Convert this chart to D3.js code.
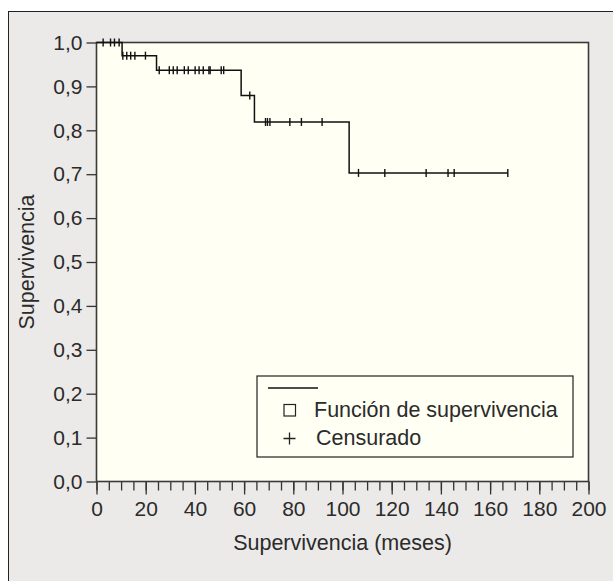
<!DOCTYPE html>
<html>
<head>
<meta charset="utf-8">
<script src="https://cdn.jsdelivr.net/npm/d3@7"></script>
<style>
  body { margin: 0; background: #fff; }
  svg text { font-family: "Liberation Sans", Arial, sans-serif; fill: #2b2b2b; }
</style>
</head>
<body>
<svg id="chart" width="613" height="581"></svg>
<script>
// Kaplan-Meier curve: step times (months) and survival level after each step
var stepTimes = [0, 10.4, 24.4, 58.8, 64.2, 102.7];
var survival = [1.0, 0.970, 0.937, 0.879, 0.819, 0.703];
var lastTime = 167.2;

// censored observations (months)
var censorTimes = [2.7, 5.7, 7.3, 9.2,
  10.7, 12.3, 13.9, 15.6, 19.9,
  25.5, 29.6, 31.2, 32.8, 35.7, 37.3, 40.1, 41.7, 43.4, 45.7, 46.2, 50.7, 51.7,
  62.3,
  68.7, 69.5, 70.5, 78.6, 83.3, 91.7,
  106.5, 117.2, 134, 142.9, 145.4, 167.2];

var xTicks = [0, 20, 40, 60, 80, 100, 120, 140, 160, 180, 200];
var yTicks = [0, 0.1, 0.2, 0.3, 0.4, 0.5, 0.6, 0.7, 0.8, 0.9, 1.0];
var legendLabels = ["Función de supervivencia", "Censurado"];

var svg = d3.select("#chart"),
    margin = {top: 42.5, right: 24.5, bottom: 99.5, left: 96.5},
    width = +svg.attr("width") - margin.left - margin.right,
    height = +svg.attr("height") - margin.top - margin.bottom;

// outer frame
svg.append("rect")
    .attr("x", 8.5).attr("y", 11.5)
    .attr("width", 620).attr("height", 600)
    .attr("fill", "#ebeae8")
    .attr("stroke", "#222").attr("stroke-width", 1);

var g = svg.append("g").attr("transform", "translate(" + margin.left + "," + margin.top + ")");

var x = d3.scaleLinear().domain([0, 200]).range([0, width]);
var y = d3.scaleLinear().domain([0, 1]).range([height, 0]);

g.append("rect")
    .attr("width", width).attr("height", height)
    .attr("fill", "#fffff3");

// minor x ticks
g.append("g")
    .attr("transform", "translate(0," + height + ")")
    .call(d3.axisBottom(x).tickValues(d3.range(0, 201, 5)).tickSize(9).tickFormat(""))
    .call(function(a) { a.select(".domain").remove(); });

g.append("g")
    .attr("class", "xaxis")
    .attr("transform", "translate(0," + height + ")")
    .call(d3.axisBottom(x).tickValues(xTicks).tickSize(13).tickPadding(7))
    .call(function(a) { a.select(".domain").remove(); });

g.append("g")
    .attr("class", "yaxis")
    .call(d3.axisLeft(y).tickValues(yTicks).tickSize(10).tickPadding(4)
      .tickFormat(function(d) { return d3.format(".1f")(d).replace(".", ","); }))
    .call(function(a) { a.select(".domain").remove(); });

g.selectAll(".tick line").attr("stroke", "#333").attr("stroke-width", 1.3);
g.selectAll(".tick text").attr("font-size", 21).attr("fill", "#2b2b2b")
    .attr("font-family", "Liberation Sans, Arial, sans-serif");

// plot border
g.append("rect")
    .attr("width", width).attr("height", height)
    .attr("fill", "none")
    .attr("stroke", "#3a3a3a").attr("stroke-width", 1.6);

// survival step line
var pts = stepTimes.map(function(t, i) { return [t, survival[i]]; });
pts.push([lastTime, survival[survival.length - 1]]);

var line = d3.line()
    .x(function(d) { return x(d[0]); })
    .y(function(d) { return y(d[1]); })
    .curve(d3.curveStepAfter);

g.append("path")
    .datum(pts)
    .attr("fill", "none")
    .attr("stroke", "#111")
    .attr("stroke-width", 1.5)
    .attr("d", line);

function survAt(t) {
  var s = survival[0];
  for (var i = 0; i < stepTimes.length; i++) if (stepTimes[i] <= t) s = survival[i];
  return s;
}

g.selectAll(".censor")
    .data(censorTimes)
    .enter().append("line")
      .attr("class", "censor")
      .attr("x1", function(d) { return x(d); })
      .attr("x2", function(d) { return x(d); })
      .attr("y1", function(d) { return y(survAt(d)) - 4; })
      .attr("y2", function(d) { return y(survAt(d)) + 4; })
      .attr("stroke", "#111")
      .attr("stroke-width", 1.4);

// axis titles
svg.append("text")
    .attr("x", margin.left + width / 2)
    .attr("y", 550)
    .attr("text-anchor", "middle")
    .attr("font-size", 21.5)
    .text("Supervivencia (meses)");

svg.append("text")
    .attr("transform", "translate(34," + (margin.top + height / 2) + ") rotate(-90)")
    .attr("text-anchor", "middle")
    .attr("font-size", 21.5)
    .text("Supervivencia");

// legend
var legend = g.append("g")
    .attr("transform", "translate(" + (width - 331.5) + "," + (height - 105.5) + ")");

legend.append("rect")
    .attr("width", 316).attr("height", 81)
    .attr("fill", "#fffff3")
    .attr("stroke", "#222").attr("stroke-width", 1.2);

legend.append("line")
    .attr("x1", 11).attr("x2", 61)
    .attr("y1", 12).attr("y2", 12)
    .attr("stroke", "#111").attr("stroke-width", 1.4);

legend.append("rect")
    .attr("x", 27).attr("y", 28.5)
    .attr("width", 11.5).attr("height", 11.5)
    .attr("fill", "none")
    .attr("stroke", "#222").attr("stroke-width", 1.2);

legend.append("path")
    .attr("d", "M26.5,62.5H38.5M32.5,56.5V68.5")
    .attr("stroke", "#222").attr("stroke-width", 1.3);

legend.selectAll(".ltext")
    .data(legendLabels)
    .enter().append("text")
      .attr("class", "ltext")
      .attr("x", function(d, i) { return i === 0 ? 57 : 59; })
      .attr("y", function(d, i) { return 41 + i * 28; })
      .attr("font-size", 21.5)
      .text(function(d) { return d; });
</script>
</body>
</html>
